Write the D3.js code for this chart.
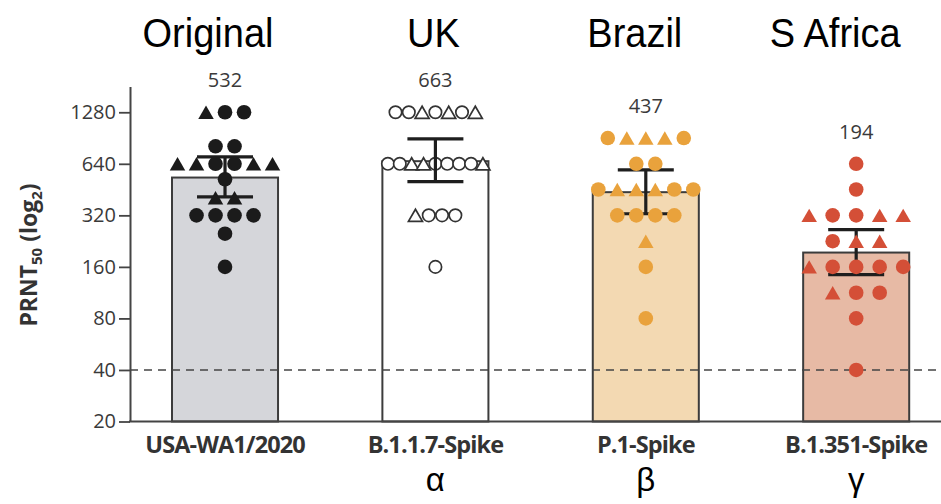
<!DOCTYPE html>
<html>
<head>
<meta charset="utf-8">
<script src="https://cdn.jsdelivr.net/npm/d3@7"></script>
<style>
  html, body { margin: 0; padding: 0; background: #fff; }
  svg { display: block; }
</style>
</head>
<body>
<svg id="chart" width="941" height="504"></svg>
<script>
// ---- data ----
const categories = ["USA-WA1/2020", "B.1.1.7-Spike", "P.1-Spike", "B.1.351-Spike"];
const variantNames = ["Original", "UK", "Brazil", "S Africa"];
const greekLabels = ["", "α", "β", "γ"];
const geoMeans = [532, 663, 437, 194];
const ciLow = [410, 503, 327, 144];
const ciHigh = [703, 895, 590, 264];
const yTicks = [20, 40, 80, 160, 320, 640, 1280];
const detectionLimit = 40;

// individual titers, listed row by row (top to bottom, left to right)
const originalTiters = [1280, 1280, 1280, 810, 810, 640, 640, 640, 640, 640, 640, 520, 405, 405, 320, 320, 320, 320, 250, 160];
const originalShapes = ["t", "c", "c", "c", "c", "t", "t", "c", "c", "t", "t", "c", "t", "t", "c", "c", "c", "c", "c", "c"];
const ukTiters = [1280, 1280, 1280, 1280, 1280, 1280, 1280, 640, 640, 640, 640, 640, 640, 640, 640, 640, 320, 320, 320, 320, 160];
const ukShapes = ["c", "c", "t", "c", "t", "c", "t", "c", "c", "t", "t", "c", "c", "c", "c", "t", "t", "c", "c", "c", "c"];
const brazilTiters = [905, 905, 905, 905, 905, 640, 640, 453, 453, 453, 453, 453, 453, 320, 320, 320, 320, 226, 160, 80];
const brazilShapes = ["c", "t", "t", "t", "c", "c", "c", "c", "t", "t", "t", "c", "c", "c", "c", "c", "c", "t", "c", "c"];
const safricaTiters = [640, 453, 320, 320, 320, 320, 320, 226, 226, 226, 160, 160, 160, 160, 160, 113, 113, 113, 80, 40];
const safricaShapes = ["c", "c", "t", "c", "c", "t", "t", "c", "t", "t", "t", "c", "c", "c", "c", "t", "c", "c", "c", "c"];

const titers = [originalTiters, ukTiters, brazilTiters, safricaTiters];
const shapes = [originalShapes, ukShapes, brazilShapes, safricaShapes];

// ---- styles ----
const barFills = ["#d5d6da", "#ffffff", "#f3d9b2", "#e7baa5"];
const markerFills = ["#1b1b1b", "#ffffff", "#e9a23c", "#d44f37"];
const markerStrokes = ["none", "#333", "none", "none"];
const openMarkers = [false, true, false, false];
const rowSpacing = [19, 13.3, 19, 23.5];
const maxRowSpan = 95;
const titleOffsets = [-17, -2, -11, -21];
const textFont = "'Open Sans', 'Noto Sans', sans-serif";

const svg = d3.select("#chart");

const x = d3.scaleBand()
  .domain(categories)
  .range([172, 909.2])
  .paddingInner(0.496)
  .paddingOuter(0);

const y = d3.scaleLog().base(2)
  .domain([20, 20 * Math.pow(2, 6.5)])
  .range([421.5, 86.5]);

const axisX0 = 130, axisX1 = 941;

// ---- bars ----
svg.append("g").selectAll("rect")
  .data(categories)
  .join("rect")
  .attr("x", d => x(d))
  .attr("width", x.bandwidth())
  .attr("y", (d, i) => y(geoMeans[i]))
  .attr("height", (d, i) => y(20) - y(geoMeans[i]))
  .attr("fill", (d, i) => barFills[i])
  .attr("stroke", "#3c3c3c")
  .attr("stroke-width", 2);

// ---- detection limit ----
svg.append("line")
  .attr("x1", axisX0).attr("x2", axisX1)
  .attr("y1", y(detectionLimit)).attr("y2", y(detectionLimit))
  .attr("stroke", "#444").attr("stroke-width", 1.6)
  .attr("stroke-dasharray", "8,6");

// ---- markers ----
function triPath(s) {
  const h = s * Math.sqrt(3) / 2;
  return `M0,${-h / 2}L${s / 2},${h / 2}L${-s / 2},${h / 2}Z`;
}

function layoutGroup(i) {
  const vals = titers[i], shp = shapes[i];
  const cx = x(categories[i]) + x.bandwidth() / 2;
  const pts = [];
  let start = 0;
  while (start < vals.length) {
    let end = start;
    while (end < vals.length && vals[end] === vals[start]) end++;
    const n = end - start;
    const sp = n > 1 ? Math.min(rowSpacing[i], maxRowSpan / (n - 1)) : 0;
    for (let k = 0; k < n; k++) {
      pts.push({
        value: vals[start + k],
        shape: shp[start + k],
        px: cx + (k - (n - 1) / 2) * sp,
        py: y(vals[start + k])
      });
    }
    start = end;
  }
  return pts;
}

function drawMarkers(i) {
  const open = openMarkers[i];
  const g = svg.append("g");
  const pts = layoutGroup(i);
  g.selectAll("circle")
    .data(pts.filter(p => p.shape === "c"))
    .join("circle")
    .attr("cx", p => p.px).attr("cy", p => p.py)
    .attr("r", open ? 6.2 : 7.3)
    .attr("fill", markerFills[i])
    .attr("stroke", markerStrokes[i])
    .attr("stroke-width", open ? 1.7 : 0);
  g.selectAll("path")
    .data(pts.filter(p => p.shape === "t"))
    .join("path")
    .attr("d", triPath(open ? 14 : 15.5))
    .attr("transform", p => `translate(${p.px},${p.py})`)
    .attr("fill", markerFills[i])
    .attr("stroke", markerStrokes[i])
    .attr("stroke-width", open ? 1.7 : 0)
    .attr("stroke-linejoin", "miter");
}

function drawErrorBar(i) {
  const cx = x(categories[i]) + x.bandwidth() / 2;
  const capHalf = 28;
  const g = svg.append("g")
    .attr("stroke", "#1e1e1e").attr("stroke-width", 3.2).attr("fill", "none");
  g.append("line").attr("x1", cx).attr("x2", cx)
    .attr("y1", y(ciHigh[i])).attr("y2", y(ciLow[i]));
  [ciHigh[i], ciLow[i]].forEach(v => {
    g.append("line").attr("x1", cx - capHalf).attr("x2", cx + capHalf)
      .attr("y1", y(v)).attr("y2", y(v));
  });
}

categories.forEach((c, i) => {
  if (openMarkers[i]) { drawMarkers(i); drawErrorBar(i); }
  else { drawErrorBar(i); drawMarkers(i); }
});

// ---- axes ----
const yAxis = svg.append("g")
  .attr("transform", `translate(${axisX0},0)`)
  .call(d3.axisLeft(y).tickValues(yTicks).tickFormat(d3.format("d"))
    .tickSize(11).tickSizeOuter(0).tickPadding(3));
yAxis.select(".domain").attr("stroke", "#444").attr("stroke-width", 2);
yAxis.selectAll(".tick line").attr("stroke", "#444").attr("stroke-width", 1.8);
yAxis.selectAll(".tick text")
  .attr("font-family", textFont).attr("font-size", 20).attr("fill", "#3a3a3a");

svg.append("line")
  .attr("x1", axisX0 - 1).attr("x2", axisX1)
  .attr("y1", y(20)).attr("y2", y(20))
  .attr("stroke", "#444").attr("stroke-width", 2);

const xAxis = svg.append("g")
  .attr("transform", `translate(0,${y(20)})`)
  .call(d3.axisBottom(x).tickSize(0).tickPadding(0));
xAxis.select(".domain").remove();
xAxis.selectAll(".tick text")
  .attr("y", 31).attr("dy", 0)
  .attr("font-family", textFont).attr("font-size", 23.5).attr("font-weight", 700)
  .attr("fill", "#333").attr("letter-spacing", "-0.9px");

// Greek lineage letters
svg.append("g").selectAll("text")
  .data(categories)
  .join("text")
  .attr("x", d => x(d) + x.bandwidth() / 2)
  .attr("y", 491)
  .attr("text-anchor", "middle")
  .attr("font-family", "'Liberation Sans', Arial, sans-serif")
  .attr("font-size", 33)
  .attr("fill", "#000")
  .text((d, i) => greekLabels[i]);

// variant titles
svg.append("g").selectAll("text")
  .data(categories)
  .join("text")
  .attr("x", (d, i) => x(d) + x.bandwidth() / 2 + titleOffsets[i])
  .attr("y", 47)
  .attr("text-anchor", "middle")
  .attr("font-family", "'Liberation Sans', Arial, sans-serif")
  .attr("font-size", 38)
  .attr("fill", "#000")
  .attr("transform", (d, i) => {
    const cx = x(d) + x.bandwidth() / 2 + titleOffsets[i];
    return `translate(${cx},0) scale(1.0,1.06) translate(${-cx},-2.8)`;
  })
  .text((d, i) => variantNames[i]);

// geometric mean labels
svg.append("g").selectAll("text")
  .data(categories)
  .join("text")
  .attr("x", d => x(d) + x.bandwidth() / 2)
  .attr("y", (d, i) => y(d3.max(titers[i])) - 25)
  .attr("text-anchor", "middle")
  .attr("font-family", textFont)
  .attr("font-size", 20)
  .attr("fill", "#3a3a3a")
  .text((d, i) => geoMeans[i]);

// y-axis title
const yTitle = svg.append("text")
  .attr("transform", "translate(37,255) rotate(-90)")
  .attr("text-anchor", "middle")
  .attr("font-family", textFont)
  .attr("font-size", 23)
  .attr("font-weight", 700)
  .attr("fill", "#333");
yTitle.append("tspan").text("PRNT");
yTitle.append("tspan").attr("font-size", 15).attr("dy", 5).text("50");
yTitle.append("tspan").attr("dy", -5).text(" (log");
yTitle.append("tspan").attr("font-size", 15).attr("dy", 5).text("2");
yTitle.append("tspan").attr("dy", -5).text(")");
</script>
</body>
</html>
